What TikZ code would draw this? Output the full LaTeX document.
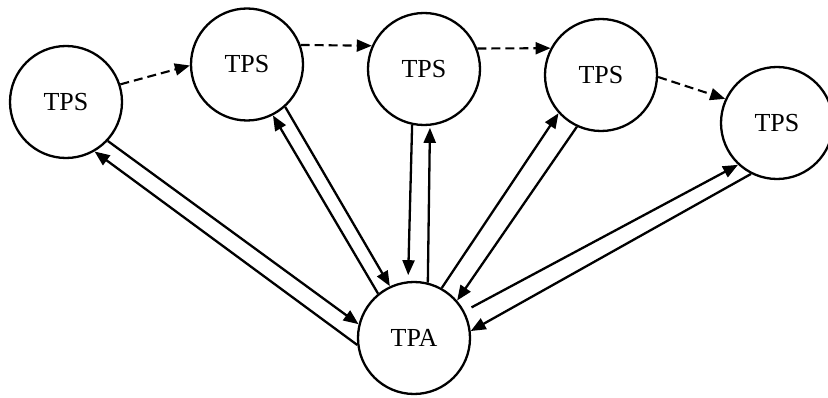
\documentclass[tikz,border=0pt]{standalone}
\usepackage{fontspec}
\setmainfont{Liberation Serif}
\usetikzlibrary{arrows.meta}
\begin{document}
\begin{tikzpicture}[x=1pt,y=1pt,
  proc/.style={circle,draw,line width=2.3pt,minimum size=112pt,inner sep=0pt,font=\fontsize{26}{30}\selectfont},
  link/.style={line width=2.3pt,-{Triangle[length=15pt,width=12pt]}},
  seq/.style={line width=2.1pt,dash pattern=on 9pt off 5pt,-{Triangle[length=15pt,width=12pt]}}]
\useasboundingbox (0,0) rectangle (828,397);
\node[proc] (s1) at (66,295) {TPS};
\node[proc] (s2) at (247,332.5) {TPS};
\node[proc] (s3) at (424,328) {TPS};
\node[proc] (s4) at (601,322) {TPS};
\node[proc] (s5) at (777,274) {TPS};
\node[proc] (a) at (414,59) {TPA};
% sequence (dashed)
\draw[seq] (s1.18.4) -- (s2.181);
\draw[seq] (s2.20.9) -- (s3.156.4);
\draw[seq] (s3.21.3) -- (s4.152);
\draw[seq] (s4.-2) -- (s5.155.9);
% TPS1 <-> TPA
\draw[link] (s1.-43.7) -- (a.166.9);
\draw[link] (a.187.3) -- (s1.-60.6);
% TPS2 <-> TPA
\draw[link] (s2.-48.5) -- (a.115.2);
\draw[link] (a.129.4) -- (s2.-63);
% TPS3 <-> TPA
\draw[link,shorten >=6pt] (s3.-102.1) -- (a.96.3);
\draw[link,shorten >=2pt] (a.76.7) -- (s3.-84.2);
% TPS4 <-> TPA
\draw[link] (s4.-115.6) -- (a.41.7);
\draw[link] (a.61.2) -- (s4.-138.5);
% TPS5 <-> TPA
\draw[link] (s5.-117) -- (a.7.9);
\draw[link,shorten <=8pt] (a.28.1) -- (s5.-133.5);
\end{tikzpicture}
\end{document}
